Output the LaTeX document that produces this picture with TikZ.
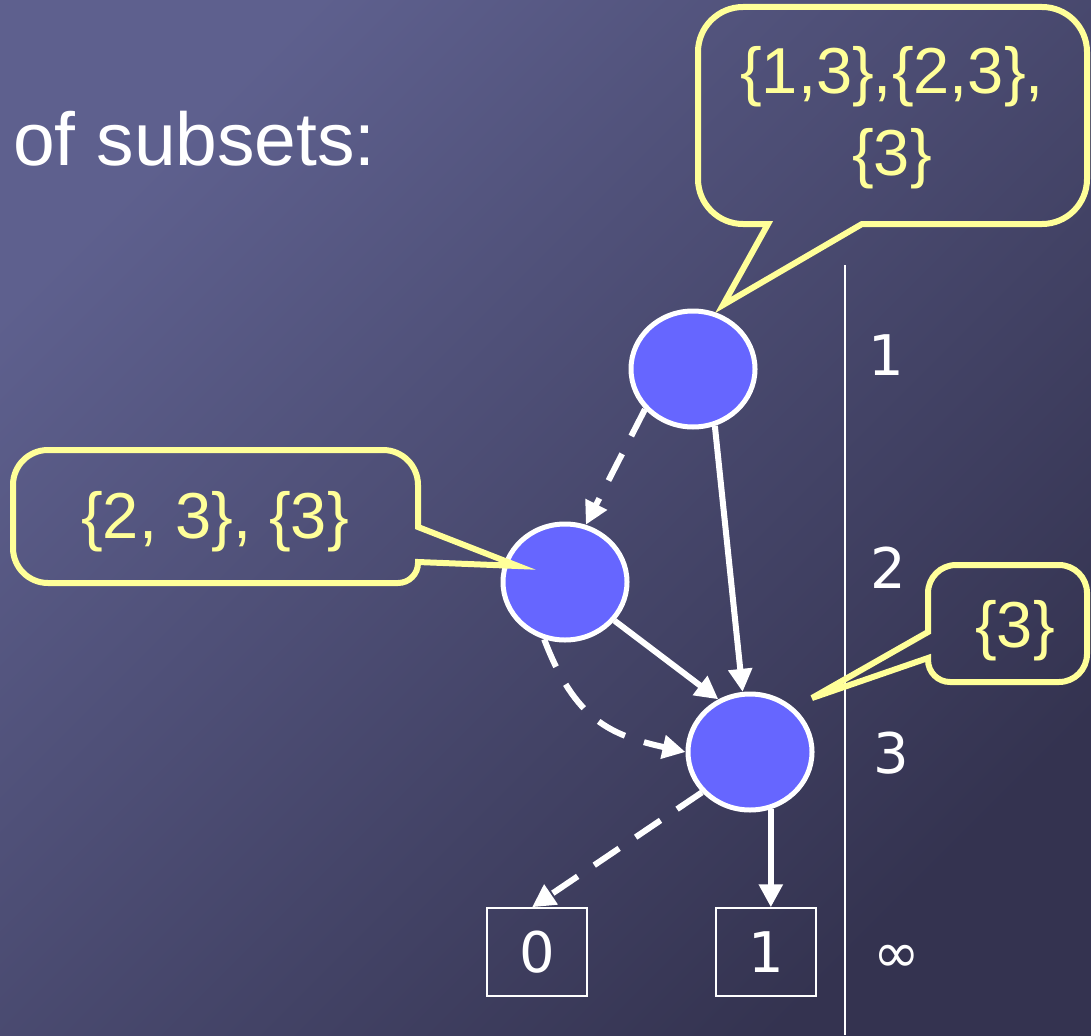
\documentclass[tikz,border=0pt]{standalone}
\usepackage{fontspec}
\setmainfont{Liberation Sans}
\newfontfamily\numfont{DejaVu Sans}
\usetikzlibrary{arrows.meta,shapes.geometric}
\definecolor{bgA}{RGB}{94,96,142}
\definecolor{bgB}{RGB}{52,51,80}
\definecolor{nodefill}{RGB}{102,102,255}
\definecolor{calloutyellow}{RGB}{255,255,153}
\begin{document}
\begin{tikzpicture}[x=1pt,y=-1pt,
  bdd/.style={ellipse, draw=white, line width=5pt, fill=nodefill, minimum width=124pt, minimum height=116pt, inner sep=0pt},
  leaf/.style={rectangle, draw=white, line width=1.5pt, minimum width=100pt, minimum height=88pt, text=white, font=\numfont\fontsize{56}{60}\selectfont, inner sep=0pt},
  hi/.style={draw=white, line width=6pt, -{Triangle[length=23pt,width=23pt]}},
  lo/.style={hi, dash pattern=on 30pt off 20pt},
  callout/.style={draw=calloutyellow, line width=6pt, line join=miter},
  ctext/.style={text=calloutyellow, font=\fontsize{65}{82}\selectfont, inner sep=0pt, align=center},
  level/.style={text=white, font=\numfont\fontsize{56}{60}\selectfont, inner sep=0pt, anchor=base}
]
\useasboundingbox (0,0) rectangle (1091,1035);
\shade[top color=bgA, bottom color=bgB, shading angle=45] (0,0) rectangle (1091,1035);

% title fragment
\node[anchor=base west, inner sep=0pt, text=white, font=\fontsize{75}{80}\selectfont] (title) at (13,165) {of subsets:};

% level axis
\draw[white, line width=1.5pt] (845,265) -- (845,1035);
\node[level] (l1) at (886,375) {1};
\node[level] (l2) at (888,588) {2};
\node[level] (l3) at (891,773) {3};
\node[text=white, font=\numfont\fontsize{56}{60}\selectfont, inner sep=0pt] (linf) at (897,959) {∞};

% nodes
\node[bdd] (n1) at (693,369) {};
\node[bdd] (n2) at (565,582) {};
\node[bdd] (n3) at (750,752) {};
\node[leaf] (b0) at (537,952) {0};
\node[leaf] (b1) at (766,952) {1};

% edges
\draw[lo] (n1.220) -- (n2.70);
\draw[hi] (n1.291) -- (n3.97);
\draw[hi] (n2.322) -- (n3.121);
\draw[lo] (n2.250) .. controls (575,720) and (610,735) .. (n3.180);
\draw[lo] (n3.220) -- ([xshift=-5pt]b0.north);
\draw[hi] (n3.290) -- (n3.290 |- b1.north);

% callouts
\draw[callout] (1087,115) [rounded corners=45pt] -- (1087,7) -- (698,7) -- (698,224) [sharp corners] -- (768,224) -- (723,305) -- (862,224) [rounded corners=45pt] -- (1087,224) -- cycle;
\node[ctext] (c1) at (892,118) {\{1,3\},\{2,3\},\\\{3\}};

\draw[callout] (215,450) [rounded corners=35pt] -- (418,450) [sharp corners] -- (418,527) -- (518,566) -- (418,562) [rounded corners=20pt] -- (418,583) [rounded corners=35pt] -- (13,583) -- (13,450) -- cycle;
\node[ctext, anchor=base] (c2) at (215,538) {\{2, 3\}, \{3\}};

\draw[callout] (1087,620) [rounded corners=28pt] -- (1087,565) -- (928,565) [sharp corners] -- (928,632) -- (812,698) -- (928,658) [rounded corners=22pt] -- (928,682) [rounded corners=28pt] -- (1087,682) -- cycle;
\node[ctext, anchor=base] (c3) at (1015,647) {\{3\}};
\end{tikzpicture}
\end{document}
